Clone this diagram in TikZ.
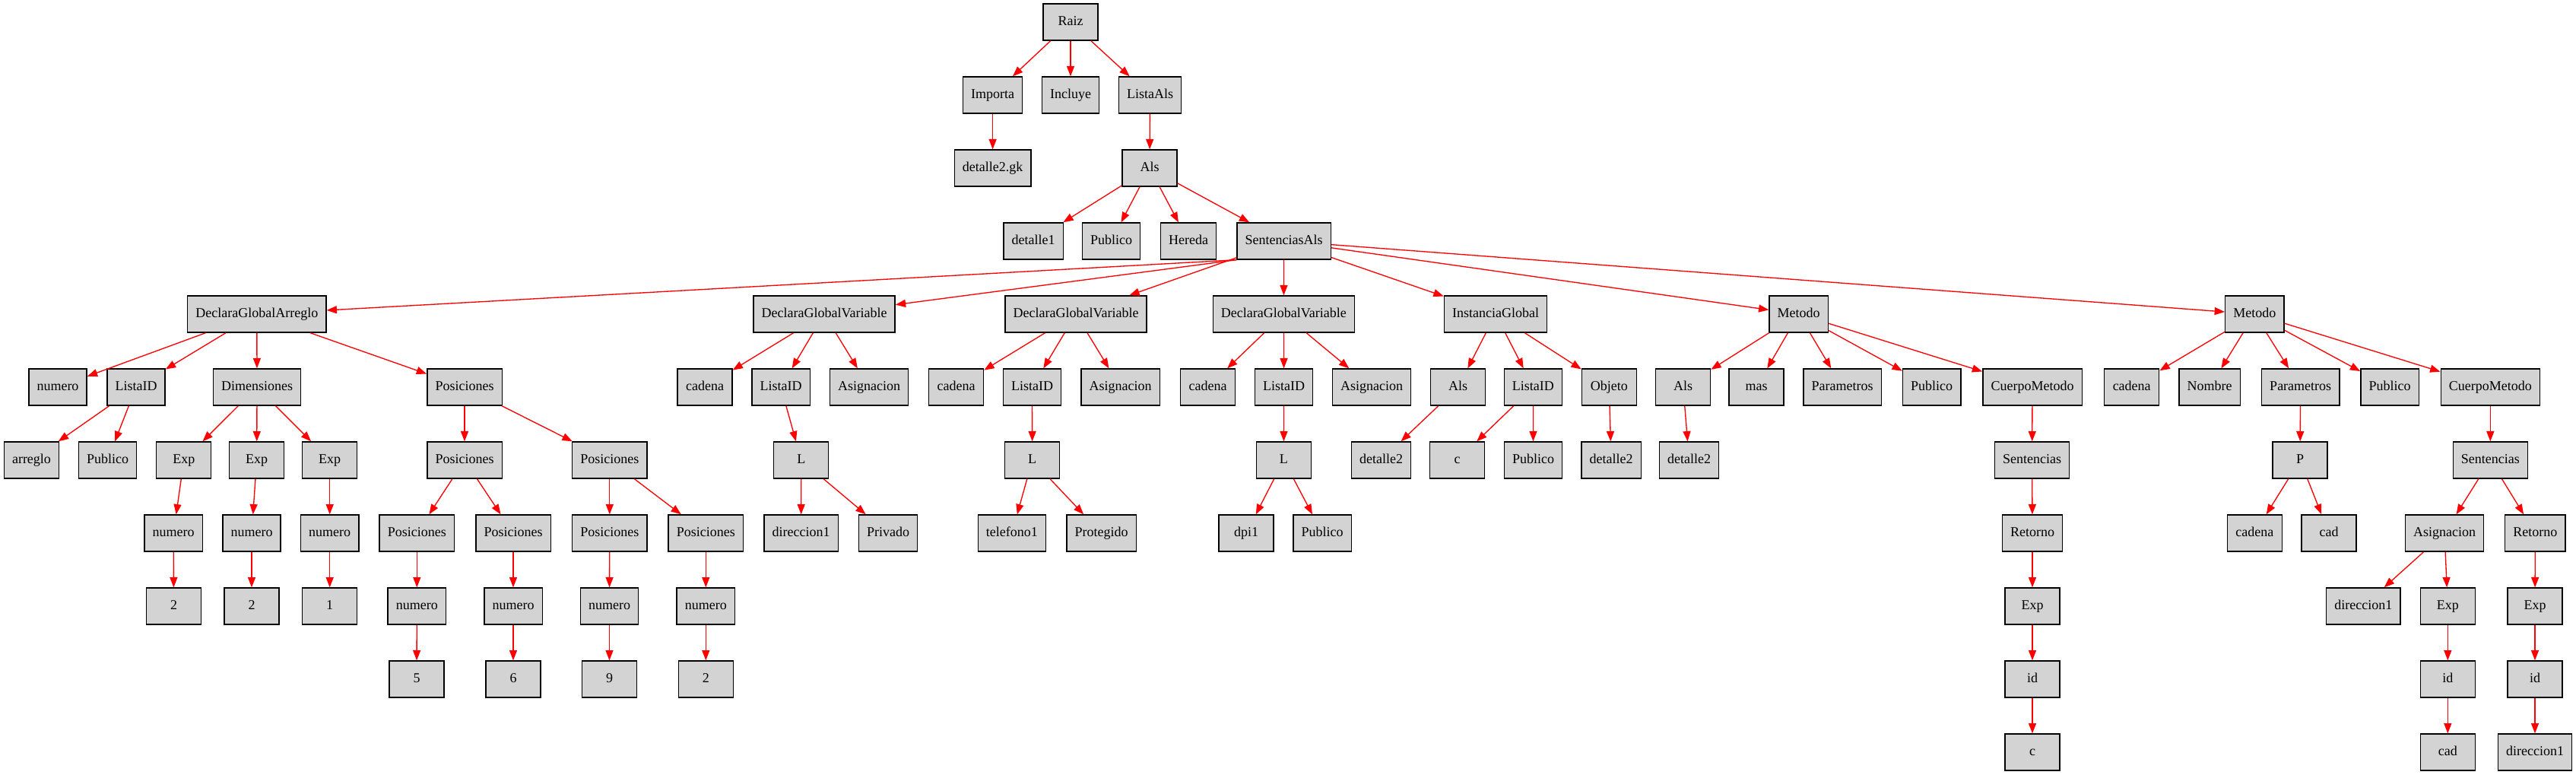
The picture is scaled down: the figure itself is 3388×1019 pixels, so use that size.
\documentclass[tikz,border=0pt]{standalone}
\usepackage{fontspec}
\setmainfont{Liberation Serif}
\usetikzlibrary{arrows.meta}
\definecolor{boxgray}{HTML}{D3D3D3}
\begin{document}
\begin{tikzpicture}[x=0.75pt,y=-0.75pt,
  box/.style={draw=black,line width=1pt,fill=boxgray,minimum height=36pt,minimum width=54pt,
    inner xsep=8pt,inner ysep=0pt,text height=9.5pt,text depth=3pt,font=\fontsize{13.5}{16}\selectfont},
  edge/.style={draw=red,line width=1pt,-{Triangle[length=10pt,width=7.5pt]}}]
\useasboundingbox (0,0) rectangle (3388,1019);
% row 0-3
\node[box] (raiz) at (1408,29) {Raiz};
\node[box] (importa) at (1305.6,125) {Importa};
\node[box] (incluye) at (1408,125) {Incluye};
\node[box] (listaals) at (1512.5,125) {ListaAls};
\node[box] (detgk) at (1305.6,221) {detalle2.gk};
\node[box] (als) at (1512,221) {Als};
\node[box] (detA) at (1359,317) {detalle1};
\node[box] (pubA) at (1461.5,317) {Publico};
\node[box] (hereda) at (1563,317) {Hereda};
\node[box] (sals) at (1688.6,317) {SentenciasAls};
% row 4
\node[box] (dga) at (337.8,413) {DeclaraGlobalArreglo};
\node[box] (dgvA) at (1084,413) {DeclaraGlobalVariable};
\node[box] (dgvB) at (1415,413) {DeclaraGlobalVariable};
\node[box] (dgvC) at (1688.4,413) {DeclaraGlobalVariable};
\node[box] (ig) at (1967,413) {InstanciaGlobal};
\node[box] (metA) at (2365.7,413) {Metodo};
\node[box] (metB) at (2965.3,413) {Metodo};
% row 5
\node[box] (aNum) at (76,509) {numero};
\node[box] (aLid) at (179,509) {ListaID};
\node[box] (aDim) at (338,509) {Dimensiones};
\node[box] (aPos) at (611,509) {Posiciones};
\node[box] (vaCad) at (927,509) {cadena};
\node[box] (vaLid) at (1027,509) {ListaID};
\node[box] (vaAsg) at (1143,509) {Asignacion};
\node[box] (vbCad) at (1257.6,509) {cadena};
\node[box] (vbLid) at (1357.5,509) {ListaID};
\node[box] (vbAsg) at (1473.5,509) {Asignacion};
\node[box] (vcCad) at (1588.5,509) {cadena};
\node[box] (vcLid) at (1688.6,509) {ListaID};
\node[box] (vcAsg) at (1804,509) {Asignacion};
\node[box] (igAls) at (1917.7,509) {Als};
\node[box] (igLid) at (2016.4,509) {ListaID};
\node[box] (igObj) at (2116.4,509) {Objeto};
\node[box] (maAls) at (2213.7,509) {Als};
\node[box] (maMas) at (2310,509) {mas};
\node[box] (maPar) at (2423,509) {Parametros};
\node[box] (maPub) at (2540.7,509) {Publico};
\node[box] (maCm) at (2673,509) {CuerpoMetodo};
\node[box] (mbCad) at (2803.7,509) {cadena};
\node[box] (mbNom) at (2906.2,509) {Nombre};
\node[box] (mbPar) at (3025.7,509) {Parametros};
\node[box] (mbPub) at (3143,509) {Publico};
\node[box] (mbCm) at (3275.3,509) {CuerpoMetodo};
% row 6
\node[box] (arreglo) at (41.5,605) {arreglo};
\node[box] (aPub) at (141.5,605) {Publico};
\node[box] (expA) at (241.8,605) {Exp};
\node[box] (expB) at (337.7,605) {Exp};
\node[box] (expC) at (433.7,605) {Exp};
\node[box] (posA) at (611,605) {Posiciones};
\node[box] (posB) at (801.8,605) {Posiciones};
\node[box] (vaL) at (1053.8,605) {L};
\node[box] (vbL) at (1357.7,605) {L};
\node[box] (vcL) at (1688.4,605) {L};
\node[box] (igDet) at (1816.6,605) {detalle2};
\node[box] (igC) at (1916.6,605) {c};
\node[box] (igPub) at (2016.5,605) {Publico};
\node[box] (objDet) at (2119,605) {detalle2};
\node[box] (maDet) at (2221.6,605) {detalle2};
\node[box] (maSen) at (2672.6,605) {Sentencias};
\node[box] (mbP) at (3025,605) {P};
\node[box] (mbSen) at (3275.3,605) {Sentencias};
% row 7
\node[box] (numA) at (228.2,701) {numero};
\node[box] (numB) at (331,701) {numero};
\node[box] (numC) at (433.7,701) {numero};
\node[box] (posAA) at (548.3,701) {Posiciones};
\node[box] (posAB) at (675,701) {Posiciones};
\node[box] (posBA) at (801.8,701) {Posiciones};
\node[box] (posBB) at (928.3,701) {Posiciones};
\node[box] (vaDir) at (1053.6,701) {direccion1};
\node[box] (vaPriv) at (1168,701) {Privado};
\node[box] (vbTel) at (1330.9,701) {telefono1};
\node[box] (vbProt) at (1448.5,701) {Protegido};
\node[box] (vcDpi) at (1639,701) {dpi1};
\node[box] (vcPub) at (1739,701) {Publico};
\node[box] (maRet) at (2673,701) {Retorno};
\node[box] (mbPcad) at (2965.3,701) {cadena};
\node[box] (mbPc) at (3063,701) {cad};
\node[box] (mbAsg) at (3215,701) {Asignacion};
\node[box] (mbRet) at (3334.3,701) {Retorno};
% row 8
\node[box] (valA) at (228.5,797) {2};
\node[box] (valB) at (331,797) {2};
\node[box] (valC) at (433.7,797) {1};
\node[box] (nAA) at (548.3,797) {numero};
\node[box] (nAB) at (675,797) {numero};
\node[box] (nBA) at (801.5,797) {numero};
\node[box] (nBB) at (928.3,797) {numero};
\node[box] (maExp) at (2673,797) {Exp};
\node[box] (mbDir) at (3108.3,797) {direccion1};
\node[box] (mbExpA) at (3219.3,797) {Exp};
\node[box] (mbExpB) at (3334,797) {Exp};
% row 9
\node[box] (vFive) at (548,893) {5};
\node[box] (vSix) at (675,893) {6};
\node[box] (vNine) at (801.5,893) {9};
\node[box] (vTwo) at (928.3,893) {2};
\node[box] (maId) at (2673,893) {id};
\node[box] (mbIdA) at (3219.3,893) {id};
\node[box] (mbIdB) at (3334,893) {id};
% row 10
\node[box] (maC) at (2673,989) {c};
\node[box] (mbCadB) at (3219.3,989) {cad};
\node[box] (mbDirB) at (3334,989) {direccion1};
% edges
\draw[edge] (sals.south west) -- (dga);
\draw[edge] (sals.south west) -- (dgvA);
\foreach \a/\b in {raiz/importa,raiz/incluye,raiz/listaals,importa/detgk,listaals/als,
  als/detA,als/pubA,als/hereda,als/sals,
  sals/dgvB,sals/dgvC,sals/ig,sals/metA,sals/metB,
  dga/aNum,dga/aLid,dga/aDim,dga/aPos,aLid/arreglo,aLid/aPub,
  aDim/expA,aDim/expB,aDim/expC,expA/numA,expB/numB,expC/numC,numA/valA,numB/valB,numC/valC,
  aPos/posA,aPos/posB,posA/posAA,posA/posAB,posB/posBA,posB/posBB,
  posAA/nAA,posAB/nAB,posBA/nBA,posBB/nBB,nAA/vFive,nAB/vSix,nBA/vNine,nBB/vTwo,
  dgvA/vaCad,dgvA/vaLid,dgvA/vaAsg,vaLid/vaL,vaL/vaDir,vaL/vaPriv,
  dgvB/vbCad,dgvB/vbLid,dgvB/vbAsg,vbLid/vbL,vbL/vbTel,vbL/vbProt,
  dgvC/vcCad,dgvC/vcLid,dgvC/vcAsg,vcLid/vcL,vcL/vcDpi,vcL/vcPub,
  ig/igAls,ig/igLid,ig/igObj,igAls/igDet,igLid/igC,igLid/igPub,igObj/objDet,
  metA/maAls,metA/maMas,metA/maPar,metA/maPub,metA/maCm,maAls/maDet,
  maCm/maSen,maSen/maRet,maRet/maExp,maExp/maId,maId/maC,
  metB/mbCad,metB/mbNom,metB/mbPar,metB/mbPub,metB/mbCm,
  mbPar/mbP,mbP/mbPcad,mbP/mbPc,mbCm/mbSen,mbSen/mbAsg,mbSen/mbRet,
  mbAsg/mbDir,mbAsg/mbExpA,mbExpA/mbIdA,mbIdA/mbCadB,mbRet/mbExpB,mbExpB/mbIdB,mbIdB/mbDirB}
  \draw[edge] (\a) -- (\b);
\end{tikzpicture}
\end{document}
